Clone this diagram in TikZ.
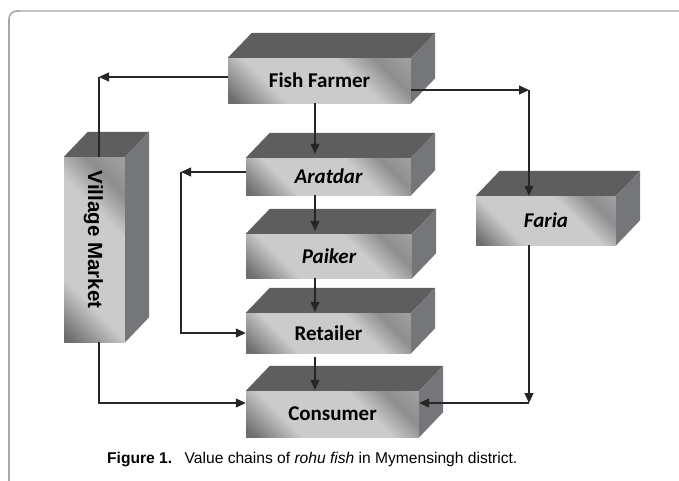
\documentclass[tikz,border=0pt]{standalone}
\usepackage{fontspec}
\setmainfont{Liberation Sans}
\newfontfamily\calibri{Carlito}
\usetikzlibrary{arrows.meta,calc}
\definecolor{topc}{HTML}{5E5E5E}
\definecolor{sidec}{HTML}{75767A}
\definecolor{fdark}{HTML}{6E6E6E}
\definecolor{flight}{HTML}{CBCBCB}
\definecolor{fmid}{HTML}{8E8E8E}
\definecolor{fedge}{HTML}{A2A2A2}
\definecolor{framec}{HTML}{C4C4C4}
\definecolor{framel}{HTML}{A8A8A8}
\pgfdeclarehorizontalshading{frontshade}{100bp}{color(0bp)=(fdark); color(17bp)=(fdark); color(33bp)=(flight); color(62bp)=(flight); color(74bp)=(fmid); color(86bp)=(fedge); color(100bp)=(fedge)}
\newcommand\boxsides[1]{%
  \fill[topc] (#1.north west) -- ++(24,-25) -- ($(#1.north east)+(24,-25)$) -- (#1.north east) -- cycle;
  \fill[sidec] (#1.north east) -- ++(24,-25) -- ($(#1.south east)+(24,-25)$) -- (#1.south east) -- cycle;}
\tikzset{
  front/.style={shade, shading=frontshade, shading angle=45, inner sep=0pt,
    font=\calibri\bfseries\fontsize{21}{25}\selectfont},
  ln/.style={draw=black!85, line width=1.1pt},
  arr/.style={ln, -{Triangle[length=10pt,width=9pt]}}
}
\begin{document}
\begin{tikzpicture}[x=1pt,y=-1pt]
\useasboundingbox (0,0) rectangle (679,480);
\clip (0,0) rectangle (679,480);
\draw[framec, line width=1.6pt] (700,11) -- (17,11);
\draw[framel, line width=1.6pt, rounded corners=8pt] (20,11) -- (9,11) -- (9,500);
% boxes
\node[front, minimum width=183pt, minimum height=45pt] (ff) at (319.5,80.5) {Fish Farmer};
\node[front, minimum width=165pt, minimum height=37pt] (ar) at (328.5,176.5) {\itshape Aratdar};
\node[front, minimum width=166pt, minimum height=44pt] (pa) at (329,256) {\itshape Paiker};
\node[front, minimum width=165pt, minimum height=40pt] (re) at (328.5,333) {Retailer};
\node[front, minimum width=173pt, minimum height=46pt] (co) at (332.5,414) {Consumer};
\node[front, minimum width=140pt, minimum height=49pt] (fa) at (546,220.5) {\itshape Faria};
\node[front, minimum width=61pt, minimum height=185pt] (vm) at (94.5,249.5) {};
\node[rotate=-90, font=\bfseries\fontsize{20.5}{24}\selectfont] (vmt) at ($(vm.center)+(-1,-10)$) {Village Market};
\boxsides{ff}\boxsides{ar}\boxsides{pa}\boxsides{re}\boxsides{co}\boxsides{fa}\boxsides{vm}
% connectors
\coordinate (c1) at (99,77);
\coordinate (c2) at (181,172);
\coordinate (c4) at (99,403);
\coordinate (c5) at (529,90);
\coordinate (c6) at (529,403);
\coordinate (xa) at (315,0);
\draw[arr] ($(ff.west)+(0,-3.5)$) -- (c1);
\draw[ln] (c1) -- (c1 |- vm.north);
\draw[arr, shorten >=4pt] (ff.south -| xa) -- (ar.north -| xa);
\draw[arr, shorten >=3pt] (ar.south -| xa) -- (pa.north -| xa);
\draw[arr, shorten >=1pt] (pa.south -| xa) -- (re.north -| xa);
\draw[arr, shorten <=4pt, shorten >=1pt] (re.south -| xa) -- (co.north -| xa);
\draw[arr] ($(ar.west)+(0,-4.5)$) -- (c2);
\draw[arr] (c2) -- (c2 |- re.west) -- (re.west);
\draw[arr] (vm.south -| c4) -- (c4) -- (co.west |- c4);
\draw[arr] ($(ff.east)+(0,9.5)$) -- (c5);
\draw[arr] (c5) -- (c5 |- fa.north);
\draw[arr] (fa.south -| c5) -- (c6);
\draw[arr] (c6) -- (co.east |- c6);
% caption
\node[anchor=base west, inner sep=0pt, font=\fontsize{15.6}{19}\selectfont] (cap) at (107,463)
  {\textbf{Figure 1.}\hspace{0.8em}Value chains of \textit{rohu fish} in Mymensingh district.};
\end{tikzpicture}
\end{document}
